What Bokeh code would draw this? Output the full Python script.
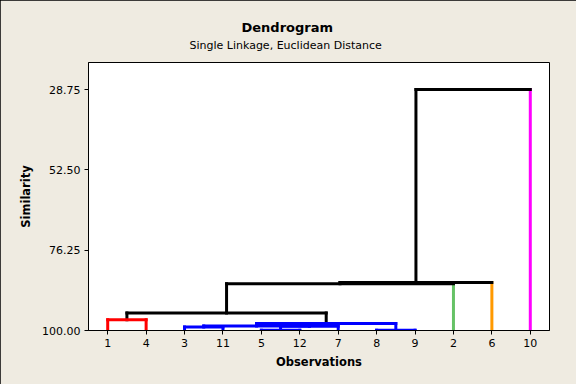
from bokeh.plotting import figure
from bokeh.models import Range1d, FixedTicker, NumeralTickFormatter, Title
from bokeh.embed import file_html
from bokeh.resources import INLINE

# ---- data ----
leaf_labels = ["1", "4", "3", "11", "5", "12", "7", "8", "9", "2", "6", "10"]
leaf_colors = {"2": "#66C266", "6": "#FF9900", "10": "#FF00FF"}
# merge i creates cluster "C{i+1}"
merge_a = ["5", "8", "3", "C1", "C3", "C5", "1", "C7", "C8", "C9", "C10"]
merge_b = ["12", "9", "11", "7", "C4", "C2", "4", "C6", "2", "6", "10"]
merge_sim = [99.9, 99.9, 98.95, 98.75, 98.65, 97.95, 96.8, 94.8, 86.2, 85.8, 28.75]
merge_color = ["#0000FF"] * 6 + ["#FF0000"] + ["black"] * 4
y_ticks = [100.0, 76.25, 52.50, 28.75]

# ---- build dendrogram segments from the merge table ----
pos = {lab: (i + 1, 100.0) for i, lab in enumerate(leaf_labels)}
vx0, vy0, vx1, vy1, vc = [], [], [], [], []
hx0, hy0, hx1, hy1, hc = [], [], [], [], []
for i, (a, b, s, c) in enumerate(zip(merge_a, merge_b, merge_sim, merge_color)):
    xa, ya = pos[a]
    xb, yb = pos[b]
    for node, xn, yn in ((a, xa, ya), (b, xb, yb)):
        if c != "black":
            col = c
        elif node in leaf_colors:
            col = leaf_colors[node]
        else:
            col = "black"
        vx0.append(xn); vy0.append(yn); vx1.append(xn); vy1.append(s); vc.append(col)
    hx0.append(xa); hy0.append(s); hx1.append(xb); hy1.append(s); hc.append(c)
    pos["C%d" % (i + 1)] = ((xa + xb) / 2.0, s)

BG = "#EFEBE1"
p = figure(width=576, height=384, output_backend="svg", toolbar_location=None, title=None,
           x_range=Range1d(0.5, 12.5), y_range=Range1d(100, 20.76),
           min_border_left=88, min_border_right=27, min_border_top=62, min_border_bottom=54,
           background_fill_color="white", border_fill_color=BG)
p.styles = {"outline": "1px solid black", "outline-offset": "-1px"}
p.outline_line_color = "black"
p.outline_line_width = 1
p.grid.visible = False

p.segment(vx0, vy0, vx1, vy1, color=vc, line_width=3, line_cap="square")
p.segment(hx0, hy0, hx1, hy1, color=hc, line_width=3, line_cap="square")

FONT = "DejaVu Sans"
for ax in (p.xaxis[0], p.yaxis[0]):
    ax.axis_line_color = "black"
    ax.major_tick_line_color = "black"
    ax.major_tick_out = 4
    ax.major_tick_in = 0
    ax.minor_tick_line_color = None
    ax.major_label_text_font = FONT
    ax.major_label_text_font_size = "11px"
    ax.major_label_text_color = "black"
    ax.major_label_standoff = 4
    ax.axis_label_text_font = FONT
    ax.axis_label_text_font_size = "11.5px"
    ax.axis_label_text_font_style = "bold"
    ax.axis_label_text_color = "black"

p.xaxis.ticker = FixedTicker(ticks=list(range(1, len(leaf_labels) + 1)))
p.xaxis.major_label_overrides = {i + 1: lab for i, lab in enumerate(leaf_labels)}
p.xaxis.axis_label = "Observations"
p.xaxis.axis_label_standoff = 5

p.yaxis.ticker = FixedTicker(ticks=y_ticks)
p.yaxis.formatter = NumeralTickFormatter(format="0.00")
p.yaxis.axis_label = "Similarity"
p.yaxis.axis_label_standoff = 6

p.add_layout(Title(text="Single Linkage, Euclidean Distance", align="left", offset=101,
                   vertical_align="top",
                   text_font=FONT, text_font_size="11px", text_font_style="normal",
                   text_color="black", standoff=18), "above")
p.add_layout(Title(text="Dendrogram", align="left", offset=153,
                   vertical_align="bottom",
                   text_font=FONT, text_font_size="13px", text_font_style="bold",
                   text_color="black", standoff=-11), "above")

open("out.html", "w").write(file_html(p, INLINE))
